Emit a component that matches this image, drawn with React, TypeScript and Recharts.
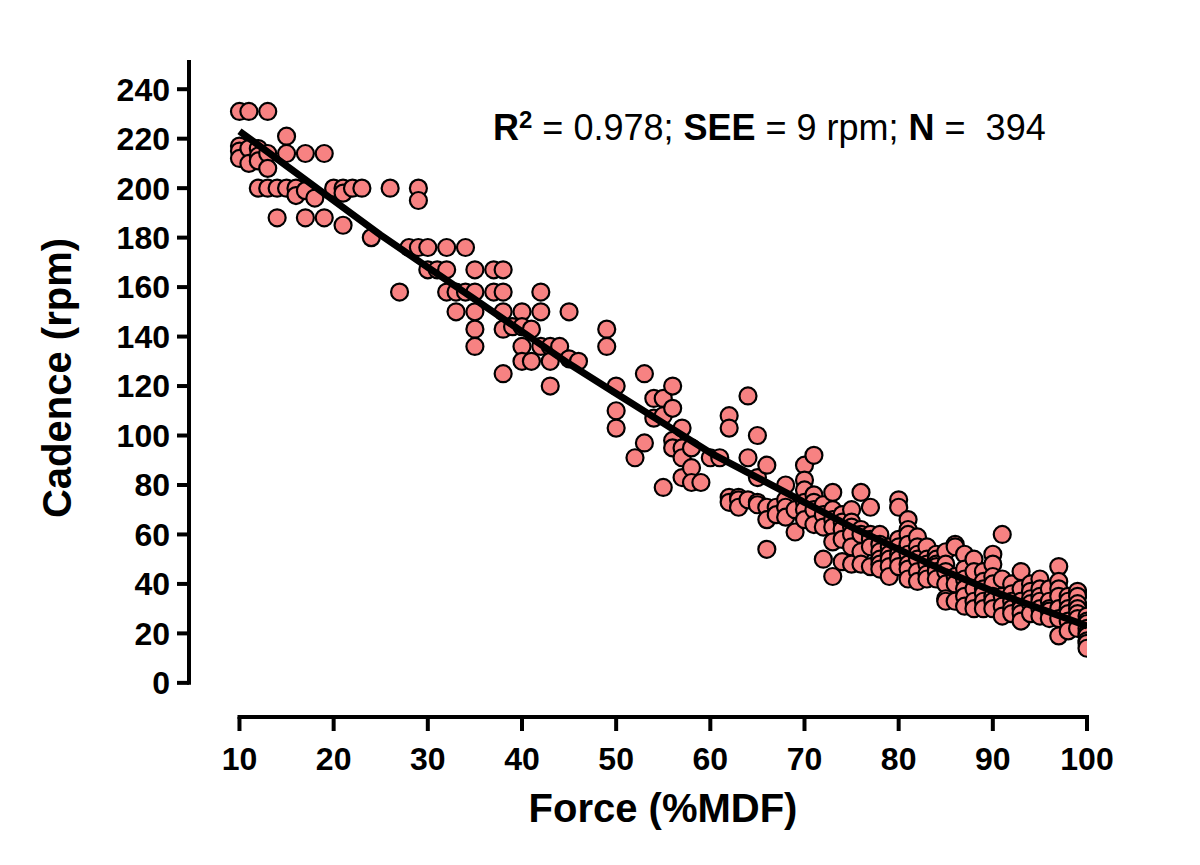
import React from "react";
import {
  ComposedChart,
  Scatter,
  XAxis,
  YAxis,
  ReferenceLine,
} from "recharts";

// Cadence readings (rpm) grouped by force level (%MDF).
const LOW_FORCE: [number, number[]][] = [
  [10, [231, 217, 215, 212]],
  [11, [231, 216, 210]],
  [12, [216, 213, 211, 200]],
  [13, [231, 214, 208, 200]],
  [14, [200, 188]],
  [15, [221, 214, 200]],
  [16, [200, 197]],
  [17, [214, 199, 188]],
  [18, [196]],
  [19, [214, 188]],
  [20, [200]],
  [21, [200, 198, 185]],
  [22, [200]],
  [23, [200]],
  [24, [180]],
  [26, [200]],
  [27, [158]],
  [28, [176]],
  [29, [200, 195, 176]],
  [30, [176, 167]],
];

const MID_FORCE: [number, number[]][] = [
  [31, [167]],
  [32, [176, 167, 158]],
  [33, [158, 150]],
  [34, [176, 158]],
  [35, [167, 158, 150, 143, 136]],
  [37, [167, 158]],
  [38, [167, 158, 150, 143, 125]],
  [39, [144]],
  [40, [150, 144, 136, 130]],
  [41, [143, 130]],
  [42, [158, 150, 136]],
  [43, [136, 130, 120]],
  [44, [136]],
  [45, [150, 131]],
  [46, [130]],
  [49, [143, 136]],
  [50, [120, 110, 103]],
  [52, [91]],
  [53, [125, 97]],
  [54, [115, 107]],
  [55, [115, 108, 79]],
  [56, [120, 111, 98, 95]],
  [57, [103, 95, 91, 83]],
  [58, [95, 87, 81]],
  [59, [81]],
  [60, [91]],
];

const HIGH_FORCE: [number, number[]][] = [
  [61, [91]],
  [62, [108, 103, 75, 73]],
  [63, [75, 74, 71]],
  [64, [116, 91, 74]],
  [65, [100, 83, 73, 72]],
  [66, [88, 71, 66, 54]],
  [67, [71, 68]],
  [68, [80, 74, 71, 67]],
  [69, [70, 61]],
  [70, [88, 82, 78, 73, 70, 66]],
  [71, [92, 76, 73, 70, 64]],
  [72, [72, 68, 63, 50]],
  [73, [77, 70, 66, 63, 57, 43]],
  [74, [68, 65, 62, 58, 49]],
  [75, [70, 65, 63, 60, 55, 48]],
  [76, [77, 62, 60, 53, 48]],
  [77, [71, 60, 58, 55, 47]],
  [78, [60, 56, 53, 50, 48, 46]],
  [79, [55, 52, 50, 47, 43]],
  [80, [74, 71, 58, 55, 52, 50, 47]],
  [81, [66, 62, 60, 56, 52, 48, 46, 42]],
  [82, [59, 55, 52, 50, 45, 41]],
  [83, [55, 50, 48, 44, 42]],
  [84, [52, 50, 48, 47, 45, 42]],
  [85, [53, 48, 45, 40, 34, 33]],
  [86, [56, 55, 43, 40, 33]],
  [87, [52, 46, 42, 38, 35, 31]],
  [88, [50, 45, 38, 33, 30]],
  [89, [45, 41, 38, 36, 33, 30]],
  [90, [52, 48, 43, 40, 35, 33, 30]],
  [91, [60, 42, 35, 31, 27]],
  [92, [40, 36, 33, 30, 28]],
  [93, [45, 38, 33, 30, 28, 25]],
  [94, [40, 37, 34, 32, 28]],
  [95, [42, 38, 35, 33, 30, 27]],
  [96, [38, 33, 30, 29, 26]],
  [97, [47, 41, 38, 35, 30, 26, 19]],
  [98, [35, 33, 30, 28, 25, 21]],
  [99, [37, 35, 32, 30, 28, 26, 22]],
  [100, [27, 25, 24, 22, 20, 19, 17, 16, 14]],
];

// Fitted curve.
const FIT_FORCE = [10, 15, 20, 25, 30, 35, 40, 45, 50, 55, 60, 65, 70, 75, 80, 85, 90, 95, 100];
const FIT_CADENCE = [223, 209, 195, 181, 168, 155, 142, 129, 117, 105, 93, 83, 73, 63, 54, 45, 37, 30, 23];

const X_TICKS = [10, 20, 30, 40, 50, 60, 70, 80, 90, 100];
const Y_TICKS = [0, 20, 40, 60, 80, 100, 120, 140, 160, 180, 200, 220, 240];

// Prism-style offset axes
const X_MIN = 4.64;
const Y_MIN = -13.8;
const Y_MAX = 251;

const FONT = "'Liberation Sans', Arial, Helvetica, sans-serif";
const POINT_FILL = "#F78282";

const points = [...LOW_FORCE, ...MID_FORCE, ...HIGH_FORCE].flatMap(([x, ys]) =>
  ys.map((y) => ({ x, y }))
);
const fit = FIT_FORCE.map((x, i) => ({ x, y: FIT_CADENCE[i] }));

const tickStyle = { fill: "#000", fontSize: 32, fontWeight: 700, fontFamily: FONT };
const tickLine = { stroke: "#000", strokeWidth: 4 };

function Dot(props: any) {
  const { cx, cy } = props;
  if (cx == null || cy == null) return null;
  return <circle cx={cx} cy={cy} r={8.5} fill={POINT_FILL} stroke="#000" strokeWidth={2.2} />;
}

function NoDot() {
  return <g />;
}

export default function App() {
  return (
    <div style={{ position: "absolute", top: 0, left: 0, width: 1200, height: 865, background: "#fff" }}>
      <ComposedChart
        width={1200}
        height={865}
        margin={{ top: 62, right: 113, bottom: 88, left: 89 }}
      >
        <XAxis
          type="number"
          dataKey="x"
          domain={[X_MIN, 100]}
          allowDataOverflow
          ticks={X_TICKS}
          axisLine={false}
          tickLine={tickLine}
          tickSize={14}
          tickMargin={16}
          tick={tickStyle}
          height={60}
        />
        <YAxis
          type="number"
          dataKey="y"
          domain={[Y_MIN, Y_MAX]}
          allowDataOverflow
          ticks={Y_TICKS}
          axisLine={false}
          tickLine={tickLine}
          tickSize={12}
          tickMargin={7}
          tick={tickStyle}
          width={100}
        />
        <ReferenceLine
          segment={[{ x: X_MIN, y: 0 }, { x: X_MIN, y: Y_MAX }]}
          stroke="#000"
          strokeWidth={4}
          strokeLinecap="square"
        />
        <ReferenceLine
          segment={[{ x: 10, y: Y_MIN }, { x: 100, y: Y_MIN }]}
          stroke="#000"
          strokeWidth={4}
          strokeLinecap="square"
        />
        <Scatter data={points} dataKey="y" shape={<Dot />} isAnimationActive={false} />
        <Scatter
          data={fit}
          dataKey="y"
          shape={<NoDot />}
          line={{ stroke: "#000", strokeWidth: 7, strokeLinejoin: "round" }}
          lineType="joint"
          isAnimationActive={false}
        />
      </ComposedChart>
      <svg
        width={1200}
        height={865}
        style={{ position: "absolute", top: 0, left: 0, pointerEvents: "none" }}
      >
        <text x={493} y={140} fontSize={36} fontFamily={FONT} fill="#000" style={{ whiteSpace: "pre" }}>
          <tspan fontWeight={700}>R</tspan>
          <tspan fontWeight={700} fontSize={24} dy={-12}>2</tspan>
          <tspan dy={12}> = 0.978; </tspan>
          <tspan fontWeight={700}>SEE</tspan>
          <tspan> = 9 rpm; </tspan>
          <tspan fontWeight={700}>N</tspan>
          <tspan> =  394</tspan>
        </text>
        <text
          x={0}
          y={0}
          transform="translate(71 378) rotate(-90)"
          textAnchor="middle"
          fontSize={40}
          fontWeight={700}
          fontFamily={FONT}
          fill="#000"
        >
          Cadence (rpm)
        </text>
        <text x={663} y={822} textAnchor="middle" fontSize={40} fontWeight={700} fontFamily={FONT} fill="#000">
          Force (%MDF)
        </text>
      </svg>
    </div>
  );
}
